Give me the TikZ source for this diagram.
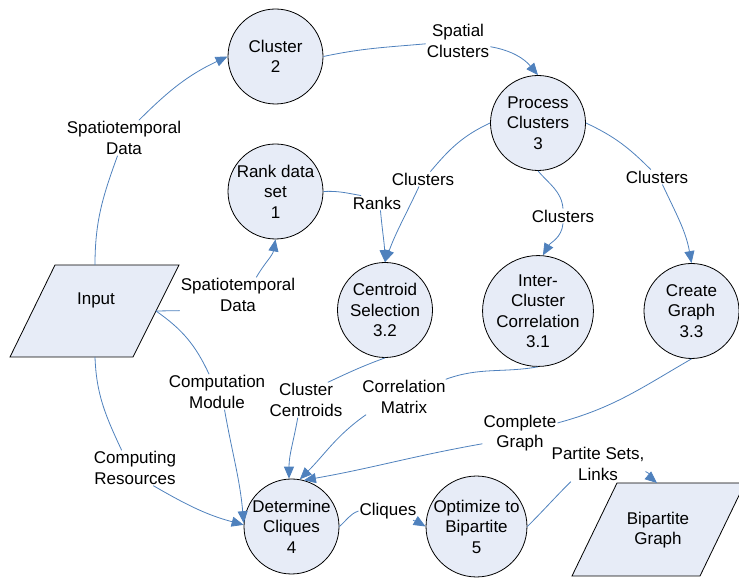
\documentclass[tikz,border=0pt]{standalone}
\usepackage{fontspec}
\setmainfont{Liberation Sans}
\usetikzlibrary{arrows.meta}
\definecolor{procfill}{RGB}{231,236,247}
\definecolor{flow}{RGB}{79,129,189}
\begin{document}
\begin{tikzpicture}[x=1pt,y=1pt,
  font=\fontsize{17}{20.5}\selectfont,
  proc/.style={circle,draw=black,line width=0.8pt,fill=procfill,minimum size=95pt,inner sep=0pt,align=center},
  flowlbl/.style={inner sep=1pt,align=center},
  flowline/.style={draw=flow,line width=0.8pt},
  flowarrow/.style={flowline,-{Triangle[length=12pt,width=10pt]}},
  iobox/.style={draw=black,line width=0.8pt,fill=procfill}
]
\useasboundingbox (0,0) rectangle (739,578);

% data stores (parallelograms)
\draw[iobox] (55,313) -- (179,313) -- (133,221) -- (10,221) -- cycle;
\node (inp) at (96,278) {Input};
\coordinate (inTop) at (95,313);
\coordinate (inRight) at (156,267);
\coordinate (inBot) at (95,221);

\draw[iobox] (617,95) -- (745,95) -- (700,2) -- (572,2) -- cycle;
\node[align=center] (bip) at (658,48) {Bipartite\\Graph};
\coordinate (bpTop) at (657,95);

% processes
\node[proc] (c2)  at (275.5,521.5) {Cluster\\2};
\node[proc] (r1)  at (275.5,386.5) {Rank data\\set\\1};
\node[proc] (p3)  at (538,455) {Process\\Clusters\\3};
\node[proc] (s32) at (385,268) {Centroid\\Selection\\3.2};
\node[proc] (i31) at (538,267) {Inter-\\Cluster\\Correlation\\3.1};
\node[proc] (g33) at (691.5,267) {Create\\Graph\\3.3};
\node[proc] (d4)  at (291.5,51.5) {Determine\\Cliques\\4};
\node[proc] (o5)  at (476.5,51.5) {Optimize to\\Bipartite\\5};

% flow labels
\node[flowlbl] (lSD1) at (124,440) {Spatiotemporal\\Data};
\node[flowlbl] (lSC)  at (458,537) {Spatial\\Clusters};
\node[flowlbl] (lSD2) at (238,283) {Spatiotemporal\\Data};
\node[flowlbl] (lRanks) at (377,375) {Ranks};
\node[flowlbl] (lCl1) at (423,399) {Clusters};
\node[flowlbl] (lCl2) at (563,362) {Clusters};
\node[flowlbl] (lCl3) at (657,401) {Clusters};
\node[flowlbl] (lCM)  at (217,186) {Computation\\Module};
\node[flowlbl] (lCR)  at (135,110) {Computing\\Resources};
\node[flowlbl] (lCC)  at (306,178) {Cluster\\Centroids};
\node[flowlbl] (lCMx) at (404,181) {Correlation\\Matrix};
\node[flowlbl] (lCG)  at (520,145) {Complete\\Graph};
\node[flowlbl] (lCq)  at (388,67) {Cliques};
\node[flowlbl] (lPS)  at (598,114) {Partite Sets,\\Links};

% flows
\draw[flowline] (inTop) to[out=90,in=-110] (lSD1.-110);
\draw[flowarrow] (lSD1.50) to[out=45,in=205] (c2.west);

\draw[flowline] (c2.east) to[out=12,in=185] (lSC.185);
\draw[flowarrow] (lSC.-10) to[out=-10,in=130] (p3.north);

\draw[flowline] (inRight) -- (lSD2.195);
\draw[flowarrow] (lSD2.44) to[out=60,in=-100] (r1.south);

\draw[flowline] (inRight) to[out=-35,in=115] (lCM.114);
\draw[flowarrow] (lCM.-67) to[out=-80,in=95] (d4.176);

\draw[flowline] (inBot) to[out=-88,in=115] (lCR.127);
\draw[flowarrow] (lCR.-44) to[out=-30,in=165] (d4.178);

\draw[flowline] (r1.east) to[out=3,in=170] (lRanks.155);
\draw[flowarrow] (lRanks.-65) to[out=-85,in=92] (s32.north);

\draw[flowline] (p3.west) to[out=205,in=50] (lCl1.45);
\draw[flowarrow] (lCl1.-118) to[out=-115,in=70] (s32.north);

\draw[flowline] (p3.south) to[out=-50,in=95] (lCl2.north);
\draw[flowarrow] (lCl2.south) to[out=-95,in=60] (i31.85);

\draw[flowline] (p3.east) to[out=-25,in=135] (lCl3.130);
\draw[flowarrow] (lCl3.-54) to[out=-65,in=100] (g33.north);

\draw[flowline] (s32.south) to[out=200,in=25] (lCC.39);
\draw[flowarrow] (lCC.-115) to[out=-100,in=90] (d4.93);

\draw[flowline] (i31.south) to[out=190,in=20] (lCMx.23);
\draw[flowarrow] (lCMx.-155) to[out=-145,in=45] (d4.80);

\draw[flowline] (g33.south) to[out=210,in=15] (lCG.15);
\draw[flowarrow] (lCG.-164) to[out=190,in=10] (d4.75);

\draw[flowline] (d4.east) to[out=40,in=200] (lCq.west);
\draw[flowarrow] (lCq.-20) to[out=-30,in=150] (o5.west);

\draw[flowline] (o5.east) to[out=45,in=225] (lPS.-147);
\draw[flowarrow] (lPS.-9) to[out=-20,in=140] (bpTop);
\end{tikzpicture}
\end{document}
